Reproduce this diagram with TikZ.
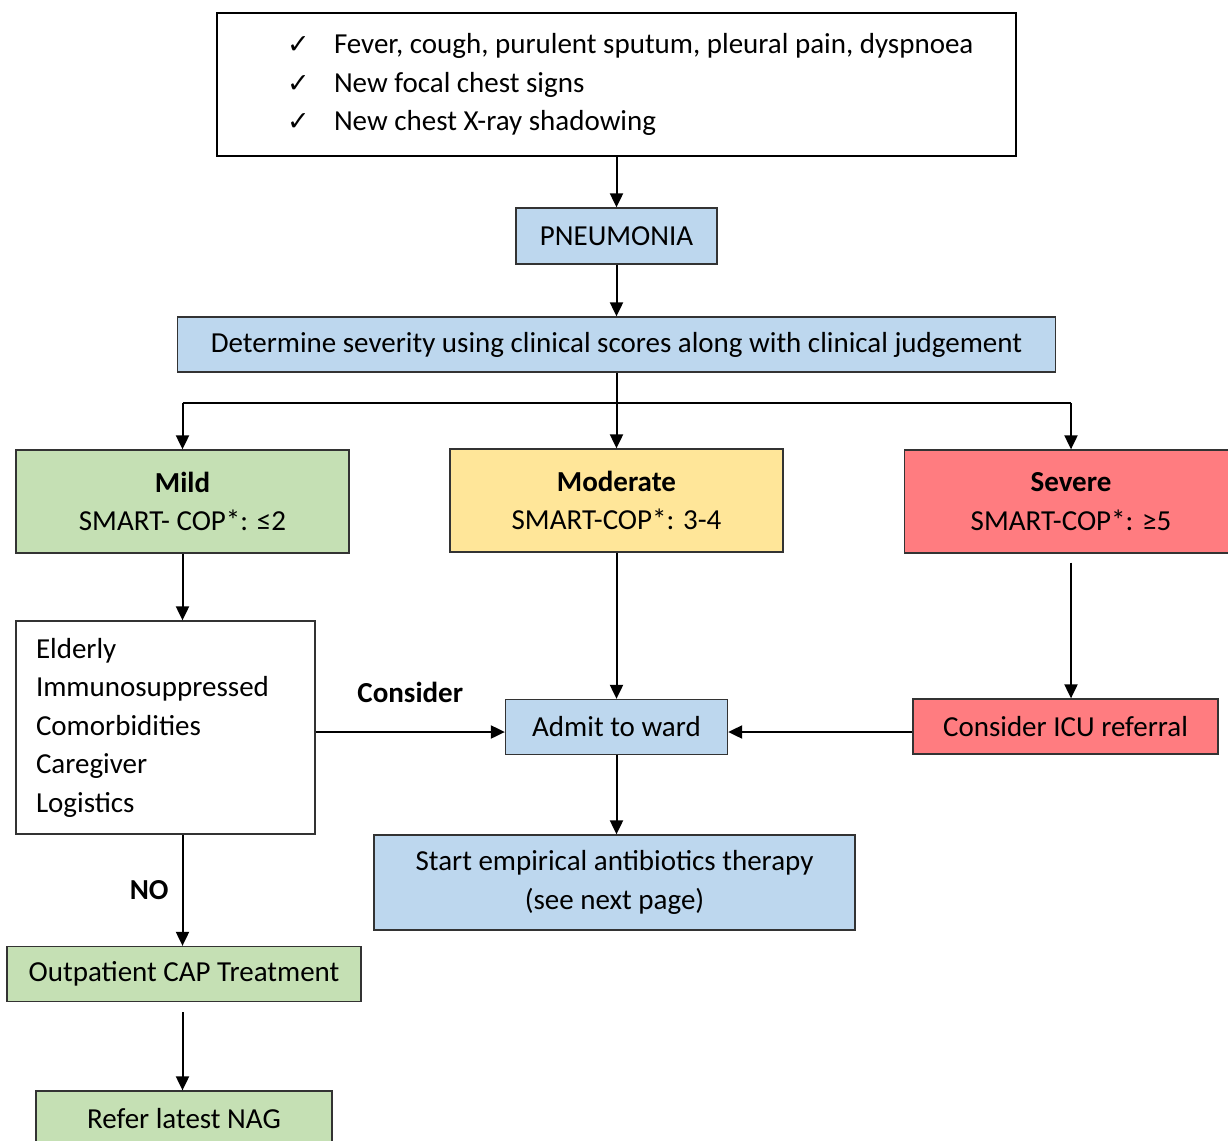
\documentclass[tikz,border=0pt]{standalone}
\usepackage{fontspec}
\setmainfont{Carlito}
\newfontfamily\symfont{DejaVu Sans}
\usetikzlibrary{arrows.meta, positioning, calc}
\definecolor{bluefill}{HTML}{BDD7EE}
\definecolor{greenfill}{HTML}{C5E0B4}
\definecolor{yellowfill}{HTML}{FFE699}
\definecolor{redfill}{HTML}{FF7C80}
\newcommand{\chkitem}[1]{\hspace*{70pt}\makebox[47pt][l]{\symfont\fontsize{27}{38.5}\selectfont ✓}#1}
\tikzset{
  box/.style={draw=black!80, line width=1.3pt, rectangle, minimum height=55pt, inner sep=0pt,
    align=center, font=\fontsize{29}{38.5}\selectfont},
  bluebox/.style={box, fill=bluefill},
  greenbox/.style={box, fill=greenfill},
  yellowbox/.style={box, fill=yellowfill},
  redbox/.style={box, fill=redfill},
  plainbox/.style={box, fill=white},
  lbl/.style={inner sep=0pt, font=\fontsize{29}{38.5}\selectfont\bfseries},
  flow/.style={-{Triangle[width=13pt,length=14pt]}, line width=2pt},
}

\begin{document}
\begin{tikzpicture}[x=1pt, y=-1pt]
  \useasboundingbox[fill=white] (0,0) rectangle (1228,1140);

  \node[plainbox, draw=black, line width=2.5pt, minimum width=799pt, minimum height=143pt,
    text width=799pt, align=left] (signs) at (616.5,84.5)
    {\spaceskip=0pt\xspaceskip=0pt
     \chkitem{Fever, cough, purulent sputum, pleural pain, dyspnoea}\\
     \chkitem{New focal chest signs}\\
     \chkitem{New chest X-ray shadowing}};
  \node[bluebox, minimum width=201pt, minimum height=56pt] (pneu) at (616.5,236) {PNEUMONIA};
  \node[bluebox, minimum width=878pt] (grade) at (616.5,344.5)
    {Determine severity using clinical scores along with clinical judgement};

  % severity levels
  \node[greenbox, minimum width=333pt, minimum height=103pt] (mild) at (182.5,501.5)
    {\textbf{Mild}\\SMART- COP*: ≤2};
  \node[yellowbox, minimum width=333pt, minimum height=103pt] (moderate) at (616.5,500.5)
    {\textbf{Moderate}\\SMART-COP*: 3-4};
  \node[redbox, minimum width=333pt, minimum height=103pt] (severe) at (1071,501.5)
    {\textbf{Severe}\\SMART-COP*: ≥5};

  \node[plainbox, minimum width=299pt, minimum height=213pt, text width=259pt, align=left]
    (risk) at (165.5,727.5)
    {Elderly\\Immunosuppressed\\Comorbidities\\Caregiver\\Logistics};
  \node[bluebox, minimum width=222pt] (ward) at (616.5,727) {Admit to ward};
  \node[redbox, minimum width=305pt] (icu) at (1065.5,726.5) {Consider ICU referral};
  \node[bluebox, minimum width=481pt, minimum height=95pt] (abx) at (614.5,882.5)
    {Start empirical antibiotics therapy\\(see next page)};
  \node[greenbox, minimum width=354pt] (outpt) at (184,974) {Outpatient CAP Treatment};
  \node[greenbox, minimum width=296pt] (nag) at (184,1118.5) {Refer latest NAG};

  \coordinate (split) at (616.5,403);

  \draw[flow] (signs) -- (pneu);
  \draw[flow] (pneu) -- (grade);
  \draw[flow] (grade) -- (moderate);
  \draw[line width=2pt] (mild |- split) -- (severe |- split);
  \draw[flow] (mild |- split) -- (mild);
  \draw[flow] (severe |- split) -- (severe);

  \draw[flow] (mild) -- (mild |- risk.north);
  \draw[flow] (risk.east |- 0,732) -- node[lbl, anchor=base, yshift=30pt]{Consider} (ward.west |- 0,732);
  \draw[flow] (moderate) -- (ward);
  \draw[flow, shorten <=9pt] (severe) -- (severe |- icu.north);
  \draw[flow] (icu.west |- 0,732) -- (ward.east |- 0,732);
  \draw[flow] (ward) -- (abx.north -| ward);
  \draw[flow] (mild |- risk.south) -- node[lbl, left=13pt]{NO} (mild |- outpt.north);
  \draw[flow, shorten <=10pt] (mild |- outpt.south) -- (mild |- nag.north);
\end{tikzpicture}
\end{document}
